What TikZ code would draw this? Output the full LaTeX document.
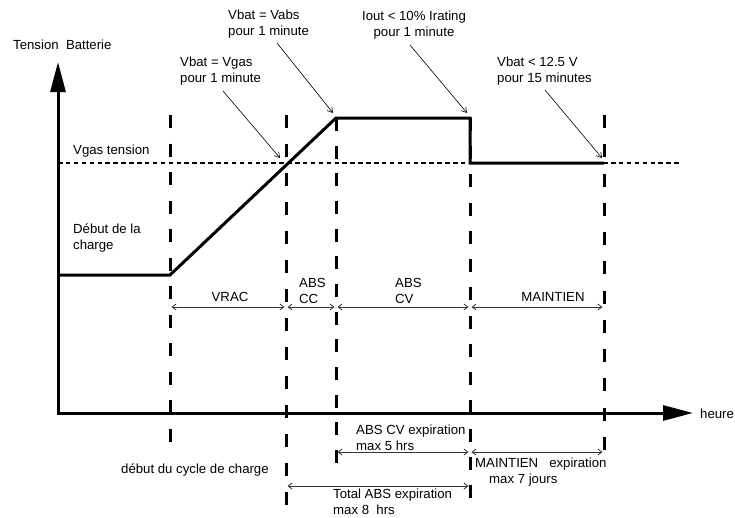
\documentclass[tikz,border=0pt]{standalone}
\usepackage{fontspec}
\setmainfont{Liberation Sans}
\usetikzlibrary{arrows.meta, positioning, calc}
\tikzset{
  axe/.style={line width=3pt, line join=miter,
    {Triangle[length=30pt,width=15pt]}-{Triangle[length=30pt,width=15pt]}},
  courbe/.style={line width=3pt, line join=miter},
  sep/.style={line width=3pt},
  niv/.style={line width=2pt, dash pattern=on 4.5pt off 3.4pt},
  fl/.style={{Straight Barb[length=4pt,width=6pt]}-{Straight Barb[length=4pt,width=6pt]},
    line width=0.8pt, black!80, shorten <=1.5pt, shorten >=1.5pt},
  fa/.style={-{Straight Barb[length=5pt,width=6pt]}, line width=0.6pt},
  lbl/.style={font=\fontsize{13.2}{15.5}\selectfont, inner sep=0pt,
    align=left, anchor=west},
}
\begin{document}
\begin{tikzpicture}[x=1pt, y=-1pt]
\useasboundingbox (0,0) rectangle (735,517);

% =====================================================================
% GRID: Vgas level + phase separators
% =====================================================================
\coordinate (g0) at (58,163);
\coordinate (g1) at (680,163);
\draw[niv] (g0) -- (g1);
\node[lbl] (vgas) at (73,151) {Vgas tension};

% separators: \k dashes of 13pt, gap fitted to the length
\foreach \n/\x/\yt/\yb/\k in {1/170/115/442/12, 2/286/115/505/14,
                              3/336/118/463/13, 4/470/118/498/14,
                              5/604/115/450/12}{
  \pgfmathsetmacro{\gap}{(\yb-\yt-13*\k)/(\k-1)}
  \coordinate (h\n) at (\x,\yt);
  \coordinate (b\n) at (\x,\yb);
  \coordinate (p\n) at (\x,307);
  \draw[sep, dash pattern=on 13pt off \gap pt] (h\n) -- (b\n);
}

% ── CHARGE CURVE ─────────────────────────────────────────────────────
\coordinate (c0) at (58,275);
\coordinate (c1) at (170,275);
\coordinate (c2) at (336,118);
\coordinate (c3) at (470,118);
\coordinate (c4) at (470,163);
\coordinate (c5) at (604,163);
\draw[courbe] (c0) -- (c1) -- (c2) -- (c3) -- (c4) -- (c5);
\node[lbl] (debut) at (73,238) {Début de la\\charge};

% ── AXES ─────────────────────────────────────────────────────────────
\coordinate (O) at (58,413);
\coordinate (ymax) at (58,62);
\coordinate (xmax) at (693,413);
\draw[axe] (ymax) -- (O) -- (xmax);
\node[lbl] (ylab) at (13,45) {Tension\ \ Batterie};
\node[lbl] (xlab) at (700,414) {heure};

% ── PHASES ───────────────────────────────────────────────────────────
\foreach \i/\j in {1/2, 2/3, 3/4, 4/5}
  \draw[fl] (p\i) -- (p\j);
\node[lbl, anchor=center] (vrac) at (230,297) {VRAC};
\node[lbl] (abscc) at (299,291) {ABS\\CC};
\node[lbl] (abscv) at (395,291) {ABS\\CV};
\node[lbl, anchor=center] (maint) at (553,297) {MAINTIEN};

% =====================================================================
% TRANSITION CONDITIONS (top)
% =====================================================================
\node[lbl] (ngas) at (180,71) {Vbat = Vgas\\pour 1 minute};
\coordinate (ag0) at (223,91);
\coordinate (ag1) at (280,158);
\draw[fa] (ag0) -- (ag1);

\node[lbl] (nabs) at (228,24) {Vbat = Vabs\\pour 1 minute};
\coordinate (ab0) at (277,43);
\coordinate (ab1) at (333,113);
\draw[fa] (ab0) -- (ab1);

\node[lbl, align=center, anchor=center] (niout) at (414,25)
  {Iout < 10\% Irating\\pour 1 minute};
\coordinate (ai0) at (410,45);
\coordinate (ai1) at (467,113);
\draw[fa] (ai0) -- (ai1);

\node[lbl] (nbat) at (497,71) {Vbat < 12.5 V\\pour 15 minutes};
\coordinate (am0) at (545,90);
\coordinate (am1) at (602,158);
\draw[fa] (am0) -- (am1);

% =====================================================================
% TIMEOUTS (bottom)
% =====================================================================
\node[lbl] (cycle) at (121,470) {début du cycle de charge};

\coordinate (e3) at (336,452);
\coordinate (e4) at (470,452);
\draw[fl] (e3) -- (e4);
\node[lbl] (exabs) at (356,438) {ABS CV expiration\\max 5 hrs};

\coordinate (m4) at (470,452);
\coordinate (m5) at (604,452);
\draw[fl] (m4) -- (m5);
\node[lbl] (exmaint) at (475,472)
  {MAINTIEN\ \ \ expiration\\\hspace*{14pt}max 7 jours};

\coordinate (t2) at (286,486);
\coordinate (t4) at (470,486);
\draw[fl] (t2) -- (t4);
\node[lbl] (extot) at (333,502) {Total ABS expiration\\max 8\ \ hrs};

\end{tikzpicture}
\end{document}
